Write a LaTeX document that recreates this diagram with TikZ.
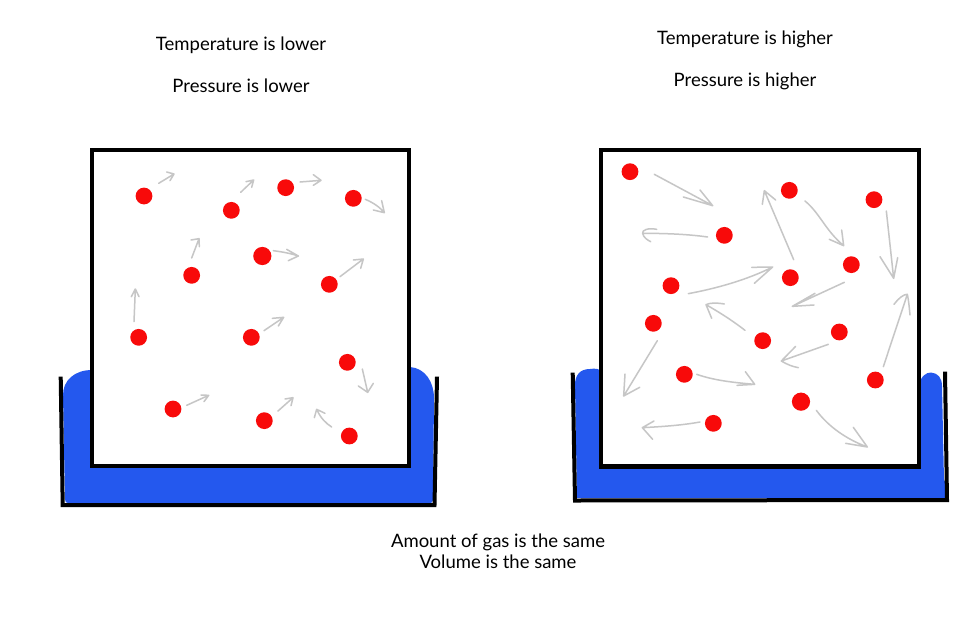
\documentclass[tikz,border=0pt]{standalone}
\usepackage{fontspec}
\setmainfont{Lato}
\definecolor{bathblue}{HTML}{2458EE}
\definecolor{dotred}{HTML}{F80A0A}
\definecolor{arrowgrey}{HTML}{C6C6C6}
\tikzset{
  caption/.style={font=\fontsize{18.5}{22}\selectfont,text=black,inner sep=0pt,anchor=base},
  molecule/.style={circle,fill=dotred,minimum size=16.8pt,inner sep=0pt},
  bigmolecule/.style={molecule,minimum size=18.2pt},
  motion/.style={draw=arrowgrey,line width=1.5pt,line cap=round,line join=round},
  bath/.style={fill=bathblue},
  rim/.style={draw=black,line width=4pt,line join=miter},
  vessel/.style={draw=black,fill=white,line width=4.2pt,line join=miter},
  zoomframe/.style={x=0.33333pt,y=-0.33333pt}
}
\begin{document}
\begin{tikzpicture}[x=1pt,y=-1pt]
\useasboundingbox[fill=white] (0,0) rectangle (980,627);
% left bath
\fill[bath] (63,395) .. controls (63,380) and (75,370) .. (92,370) -- (409,370) -- (410,367)
  .. controls (425,368) and (434,382) .. (434,398) -- (433,500) .. controls (433,503) and (431,503) .. (429,503)
  -- (68,503) .. controls (66,503) and (65,502) .. (65,499) -- cycle;
\draw[rim] (60.7,376.7) -- (62.7,505) -- (434.5,505) -- (437,376.7);
\draw[vessel] (92,150) rectangle (409,466);
% right bath
\fill[bath] (575,385) .. controls (575,375) and (580,369) .. (590,369) .. controls (595,368) and (601,369) .. (601,372)
  -- (919,385) .. controls (921,376) and (926,372.5) .. (931,372.5)
  .. controls (938,373) and (942,378) .. (942,386) -- (944,480) -- (949,487) -- (947,498) -- (600,498) -- (577,498) -- cycle;
\draw[rim] (572.7,372.7) -- (575,500.5) -- (947,500) -- (945,371.7);
\draw[vessel] (601,150) rectangle (919,466.5);
% captions
\node[caption] (t1) at (241,50) {Temperature is lower};
\node[caption] (p1) at (241,92) {Pressure is lower};
\node[caption] (t2) at (745,44) {Temperature is higher};
\node[caption] (p2) at (745,86) {Pressure is higher};
\node[caption] (a) at (498,547) {Amount of gas is the same};
\node[caption] (v) at (498,568) {Volume is the same};
% left molecules
\begin{scope}[shift={(90pt,-150pt)},zoomframe]
\foreach \n/\p in {la/{162,138},lb/{424,181},lc/{587,113},ld/{790,145},le/{305,376},lg/{718,403},lh/{146,562},li/{484,562},lj/{772,637},lk/{249,777},ll/{523,812},lm/{778,858}}
  \node[molecule] (\n) at (\p) {};
\node[bigmolecule] (lf) at (517,318) {};
\draw[motion] (206,100) -- (252,72) (230,66) -- (252,72) -- (240,92);
\draw[motion] (452,127) -- (491,90) (468,95) -- (491,90) -- (485,112);
\draw[motion] (630,96) -- (693,91) (670,74) -- (693,91) -- (670,106);
\draw[motion] (826,148) .. controls (850,158) and (870,172) .. (883,188) (875,152) -- (883,188) -- (850,180);
\draw[motion] (305,324) -- (327,266) (303,270) -- (327,266) -- (328,290);
\draw[motion] (550,302) .. controls (580,306) and (605,311) .. (625,318) (590,298) -- (625,318) -- (595,332);
\draw[motion] (750,380) -- (820,327) (790,330) -- (820,327) -- (812,355);
\draw[motion] (132,515) -- (136,417) (124,440) -- (136,417) -- (147,440);
\draw[motion] (522,542) -- (581,502) (547,505) -- (581,502) -- (565,528);
\draw[motion] (817,657) -- (833,727) (805,708) -- (833,727) -- (850,700);
\draw[motion] (290,766) -- (356,736) (333,735) -- (356,736) -- (342,755);
\draw[motion] (564,783) -- (609,743) (585,747) -- (609,743) -- (603,767);
\draw[motion] (725,831) .. controls (708,820) and (692,805) .. (680,778) (673,803) -- (680,778) -- (705,790);
\end{scope}
% right molecules
\begin{scope}[shift={(600pt,-150pt)},zoomframe]
\foreach \n/\p in {ra/{90,65},rb/{568,121},rc/{822,149},rd/{373,256},re/{754,344},rf/{571,383},rg/{213,407},rh/{160,520},ri/{488,572},rj/{718,546},rk/{253,673},rl/{826,690},rn/{340,820}}
  \node[molecule] (\n) at (\p) {};
\node[bigmolecule] (rm) at (603,755) {};
\draw[motion] (163,73) -- (338,167) (300,120) -- (338,167) -- (250,141);
\draw[motion] (323,261) .. controls (260,252) and (190,250) .. (128,250) (170,238) .. controls (145,233) and (125,240) .. (128,250) .. controls (130,262) and (142,270) .. (152,275);
\draw[motion] (581,329) -- (493,122) (487,163) -- (493,122) -- (527,150);
\draw[motion] (615,153) .. controls (660,190) and (675,240) .. (731,287) (725,240) -- (731,287) -- (688,268);
\draw[motion] (859,183) -- (881,385) (840,320) -- (881,385) -- (893,323);
\draw[motion] (265,431) .. controls (350,415) and (440,390) .. (518,351) (455,352) -- (518,351) -- (463,400);
\draw[motion] (733,397) -- (577,469) (645,430) -- (577,469) -- (642,465);
\draw[motion] (435,541) .. controls (395,510) and (355,485) .. (318,464) (373,462) .. controls (350,458) and (330,458) .. (318,464) -- (335,505);
\draw[motion] (850,650) -- (922,433) (882,463) .. controls (895,445) and (912,432) .. (922,433) .. controls (926,450) and (928,475) .. (930,495);
\draw[motion] (172,572) -- (71,738) (75,672) -- (71,738) -- (119,712);
\draw[motion] (685,583) -- (544,633) (587,589) -- (544,633) .. controls (560,643) and (578,650) .. (595,653);
\draw[motion] (290,673) .. controls (345,692) and (405,698) .. (464,703) (436,665) -- (464,703) -- (411,706);
\draw[motion] (300,816) .. controls (245,826) and (185,830) .. (127,833) (162,813) -- (127,833) -- (158,868);
\draw[motion] (649,781) .. controls (685,830) and (740,868) .. (802,891) (760,832) -- (802,891) -- (737,880);
\end{scope}
\end{tikzpicture}
\end{document}
